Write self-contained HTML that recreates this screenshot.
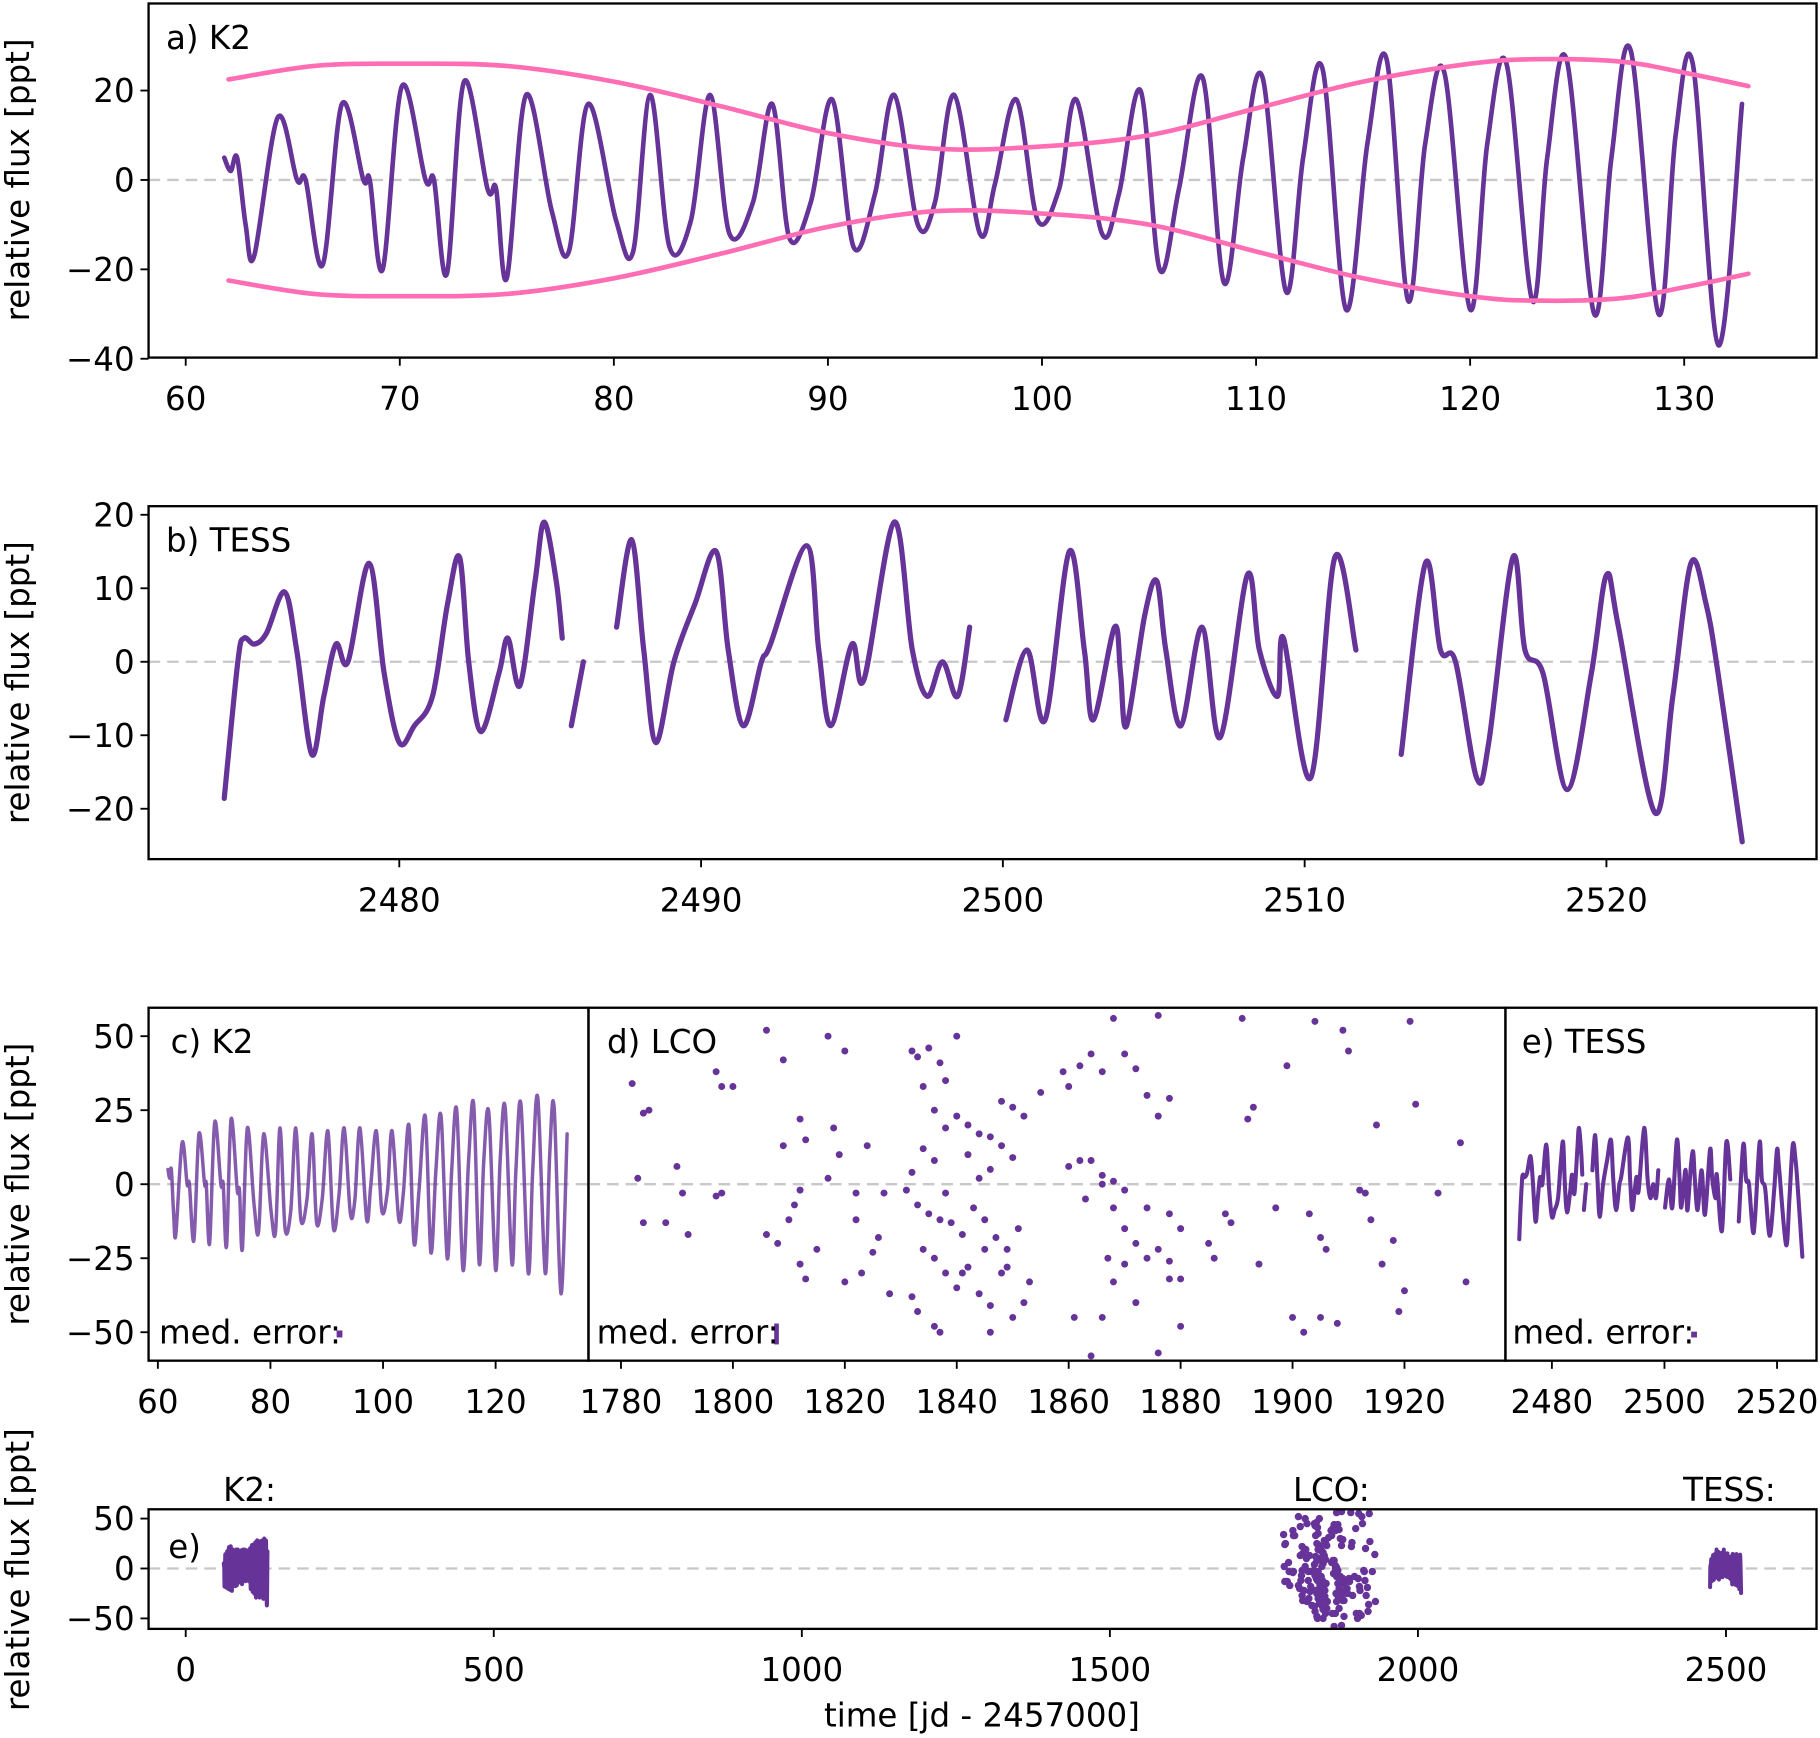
<!DOCTYPE html>
<html><head><meta charset="utf-8"><style>
html,body{margin:0;padding:0;background:#fff;}
svg{display:block;font-family:"DejaVu Sans","Liberation Sans",sans-serif;}
</style></head><body>
<svg id="fig" width="1820" height="1738" viewBox="0 0 1568 1497" preserveAspectRatio="none" xmlns="http://www.w3.org/2000/svg"></svg>
<script>
// ---- data (time [jd-2457000], relative flux [ppt]) ----
const k2Time=[61.8,62.1,62.4,62.8,63.2,64.3,65.2,65.6,66.4,67.3,68.3,68.6,69.2,70.1,71.2,71.6,72.2,73.0,74.1,74.5,75.0,75.9,77.1,77.9,78.8,80.1,80.9,81.7,82.6,83.6,84.5,85.4,86.5,87.4,88.2,89.2,90.2,91.2,92.2,93.1,94.2,95.0,95.9,97.1,97.8,98.8,99.8,100.8,101.6,102.8,103.6,104.6,105.5,106.4,107.5,108.5,109.4,110.3,111.4,112.2,113.1,114.2,115.2,116.1,117.1,117.9,118.8,120.0,120.8,121.7,122.9,123.6,124.5,125.8,126.6,127.5,128.8,129.6,130.4,131.6,132.7];
const k2Flux=[5,2,5,-10,-17,14,0,0,-19,17,0,0,-20,21,0,0,-21,22,-2,-2,-22,19,-7,-16,17,-9,-16,19,-15,-9,19,-12,-5,17,-13,-5,18,-15,-3,19,-10,-5,19,-12,-1,18,-9,-2,18,-12,-3,20,-20,-2,23,-23,5,23,-25,5,25,-29,8,27,-27,8,24,-29,8,26,-27,5,27,-30,5,29,-30,10,26,-37,17];
const envTime=[62,66,70,75,80,85,90,95,100,105,110,115,120,123,127,130,133];
const envAmp=[22.5,25.5,26,25.5,22,16.5,10.5,7,7.5,10,16,22,26,27,26.5,24,21];
const tessSegTime=[
[2474.2,2474.65,2474.85,2475.2,2475.6,2476.2,2476.6,2477.1,2477.5,2477.9,2478.3,2479.0,2479.5,2480.0,2480.5,2481.1,2481.6,2482.0,2482.3,2482.7,2483.3,2483.6,2484.0,2484.5,2484.8,2485.2,2485.4],
[2485.7,2486.1],
[2487.2,2487.7,2488.1,2488.5,2489.1,2489.8,2490.5,2490.9,2491.4,2492.0,2492.3,2493.5,2493.9,2494.3,2495.0,2495.4,2496.4,2497.0,2497.5,2498.0,2498.5,2498.9],
[2500.1,2500.8,2501.4,2502.2,2502.7,2503.0,2503.7,2503.9,2504.1,2504.7,2505.1,2505.4,2505.9,2506.6,2507.2,2508.1,2508.5,2509.1,2509.3,2510.2,2511.0,2511.7],
[2513.2,2514.0,2514.5,2515.0,2515.7,2516.1,2516.9,2517.3,2517.9,2518.7,2519.5,2520.0,2520.4,2521.6,2522.2,2522.8,2523.3,2523.7,2524.5]];
const tessSegFlux=[
[-18.6,0,3.2,2.4,3.9,9.5,1.6,-12.6,-4.7,2.4,0,13.4,-1.6,-11,-8.7,-4.7,7.9,14.2,0,-9.5,-1.6,3.2,-3.2,11,19,11,3.2],
[-8.7,0],
[4.7,16.6,1.6,-11,0,7.9,15,1.6,-8.7,0,2.4,15.8,1.6,-8.7,2.4,-2.4,19,1.6,-4.7,0,-4.7,4.7],
[-7.9,1.6,-7.9,15,1.6,-7.9,4.7,-1.6,-8.7,6.3,11,1.6,-8.7,4.7,-10.3,11.8,1.6,-4.7,3.2,-15.8,14.2,1.6],
[-12.6,13.4,1.6,0,-15.8,-11,14.2,1.6,-1.6,-17.4,-1.6,11.8,4.7,-20.5,-4.7,13.4,7.9,-1.6,-24.5]];
const lcoTime=[1782,1784,1785,1783,1784,1790,1791,1788,1792,1797,1798,1800,1797,1798,1806,1809,1812,1813,1812,1809,1811,1806,1808,1812,1810,1815,1813,1817,1818,1820,1819,1822,1824,1823,1825,1820,1827,1826,1822,1828,1817,
1832,1833,1835,1837,1838,1840,1834,1836,1838,1840,1842,1844,1846,1848,1850,1852,1855,1850,1848,1846,1844,1842,1838,1836,1834,1832,1831,1833,1835,1837,1839,1841,1843,1845,1847,1849,1851,1834,1836,1838,1840,1842,1844,1846,1848,1850,1852,1832,1833,1837,1846,1853,1836,1841,1845,1849,
1859,1860,1862,1864,1866,1868,1870,1872,1876,1874,1876,1878,1860,1862,1864,1866,1868,1870,1863,1866,1868,1870,1867,1870,1872,1874,1876,1878,1880,1878,1880,1868,1872,1866,1864,1861,1876,1880,1874,1878,
1891,1885,1886,1888,1889,1892,1893,1894,1897,1899,1904,1908,1903,1905,1906,1900,1902,1909,1910,1912,1913,1914,1916,1918,1920,1919,1921,1922,1915,1926,1930,1931,1905];
const lcoFlux=[34,24,25,2,-13,6,-3,-13,-17,38,33,33,-4,-3,52,42,22,15,-2,13,-7,-17,-20,-27,-12,-22,-32,50,19,45,10,-3,13,-30,-23,-33,-3,-18,-12,-37,2,
45,43,46,41,35,50,33,25,19,23,20,17,16,28,26,23,31,9,13,5,2,10,-3,8,12,4,-2,-7,-10,-12,-13,-17,-8,-12,-18,-22,-15,-22,-25,-30,-35,-28,-37,-41,-30,-45,-40,-38,-43,-50,-50,-33,-48,-30,-22,-28,
38,33,40,44,38,56,44,39,57,30,23,29,6,8,8,3,1,-2,-5,0,-8,-15,-25,-27,-20,-25,-22,-32,-32,-10,-15,-33,-40,-45,-58,-45,-57,-48,-8,-26,
56,-20,-25,-10,-13,22,26,-27,-8,40,55,-47,-10,-18,-22,-45,-50,52,45,-2,-3,-12,-27,-19,-36,-43,55,27,20,-3,14,-33,-45];
const ticksA_x=[60,70,80,90,100,110,120,130], ticksA_y=[20,0,-20,-40];
const ticksB_x=[2480,2490,2500,2510,2520], ticksB_y=[20,10,0,-10,-20];
const ticksC_x=[60,80,100,120], ticksCDE_y=[50,25,0,-25,-50];
const ticksD_x=[1780,1800,1820,1840,1860,1880,1900,1920];
const ticksE_x=[2480,2500,2520];
const ticksF_x=[0,500,1000,1500,2000,2500], ticksF_y=[50,0,-50];

const NS="http://www.w3.org/2000/svg";
const svg=document.getElementById('fig');
const PURPLE="#663399", PINK="#ff6eb4";
function mk(tag,attrs,parent){const e=document.createElementNS(NS,tag);for(const k in attrs)e.setAttribute(k,attrs[k]);(parent||svg).appendChild(e);return e;}
function fmt(v){return v<0?"\u2212"+Math.abs(v):String(v);}
function lin(d0,p0,d1,p1){return v=>p0+(v-d0)*(p1-p0)/(d1-d0);}
// smooth path (Catmull-Rom -> cubic bezier) through screen points
function smoothPath(pts){
  if(pts.length<3){return pts.map((p,i)=>(i?'L':'M')+p[0].toFixed(1)+' '+p[1].toFixed(1)).join('');}
  let d='M'+pts[0][0].toFixed(1)+' '+pts[0][1].toFixed(1);
  for(let i=0;i<pts.length-1;i++){
    const p0=pts[Math.max(0,i-1)],p1=pts[i],p2=pts[i+1],p3=pts[Math.min(pts.length-1,i+2)];
    const c1=[p1[0]+(p2[0]-p0[0])/6,p1[1]+(p2[1]-p0[1])/6];
    const c2=[p2[0]-(p3[0]-p1[0])/6,p2[1]-(p3[1]-p1[1])/6];
    d+='C'+c1[0].toFixed(1)+' '+c1[1].toFixed(1)+' '+c2[0].toFixed(1)+' '+c2[1].toFixed(1)+' '+p2[0].toFixed(1)+' '+p2[1].toFixed(1);
  }
  return d;
}

const P={
 a:{box:[128,3,1565,308],x:lin(60,160,130,1451),y:lin(0,155,20,78)},
 b:{box:[128,436,1565,740],x:lin(2480,344,2520,1384),y:lin(0,570,20,443.4)},
 c:{box:[128,868,507,1172],x:lin(60,136,120,427),y:lin(0,1020,50,892.5)},
 d:{box:[507,868,1297,1172],x:lin(1780,535,1920,1210),y:lin(0,1020,50,892.5)},
 e:{box:[1297,868,1565,1172],x:lin(2480,1337,2520,1531),y:lin(0,1020,50,892.5)},
 f:{box:[128,1300,1565,1403],x:lin(0,160,2500,1487),y:lin(0,1351,50,1308)}
};
let clipN=0;
function panelGroup(p,name){
  const b=p.box; const id='clip'+(clipN++);
  const cp=mk('clipPath',{id:id}); mk('rect',{x:b[0],y:b[1],width:b[2]-b[0],height:b[3]-b[1]},cp);
  const g=mk('g',{'clip-path':'url(#'+id+')'});
  
  
  const z=mk('line',{x1:b[0],x2:b[2],y1:p.y(0),y2:p.y(0),stroke:'#c8c8c8','stroke-width':2,'stroke-dasharray':'10,6'},g);
  
  
  return g;
}
function frame(p,name){
  const b=p.box;
  const r=mk('rect',{x:b[0],y:b[1],width:b[2]-b[0],height:b[3]-b[1],fill:'none',stroke:'#000','stroke-width':2});
  
  
}
function xticks(p,ticks,name){
  const b=p.box;
  ticks.forEach(t=>{const x=p.x(t);
    mk('line',{x1:x,x2:x,y1:b[3],y2:b[3]+7,stroke:'#000','stroke-width':1.6});
    const tx=mk('text',{x:x,y:b[3]+45,'text-anchor':'middle','font-size':28,fill:'#000'});tx.textContent=fmt(t);
    
    
  });
}
function yticks(p,ticks,name){
  const b=p.box;
  ticks.forEach(t=>{const y=p.y(t);
    mk('line',{x1:b[0]-7,x2:b[0],y1:y,y2:y,stroke:'#000','stroke-width':1.6});
    const tx=mk('text',{x:b[0]-12,y:y+10,'text-anchor':'end','font-size':28,fill:'#000'});tx.textContent=fmt(t);
    
    
  });
}
function curve(g,p,T,F,w,op,name,color){
  const pts=T.map((t,i)=>[p.x(t),p.y(F[i])]);
  const e=mk('path',{d:smoothPath(pts),fill:'none',stroke:color||PURPLE,'stroke-width':w,'stroke-linejoin':'round','stroke-linecap':'round',opacity:op},g);
  
  
}
function scatter(g,p,T,F,r,name){
  T.forEach((t,i)=>{const c=mk('circle',{cx:p.x(t),cy:p.y(F[i]),r:r,fill:PURPLE},g);
    
    });
}
function label(x,y,s,name,size,anchor){
  const t=mk('text',{x:x,y:y,'font-size':size||28,fill:'#000','text-anchor':anchor||'start'});t.textContent=s;
  
  
}
function ytitle(cx,cy,name){
  const t=mk('text',{x:0,y:0,'font-size':28,fill:'#000','text-anchor':'middle',transform:'translate('+cx+','+cy+') rotate(-90)'});
  t.textContent='relative flux [ppt]';
  
  
}

// panel a
let g=panelGroup(P.a,'panel-a');
curve(g,P.a,k2Time,k2Flux,4,1,'k2-light-curve');
curve(g,P.a,envTime,envAmp,4,1,'upper-envelope',PINK);
curve(g,P.a,envTime,envAmp.map(v=>-v),4,1,'lower-envelope',PINK);
frame(P.a,'panel-a');xticks(P.a,ticksA_x,'panel-a');yticks(P.a,ticksA_y,'panel-a');
label(143,42,'a) K2','panel-a-title');ytitle(25,155,'panel-a-y-title');

// panel b
g=panelGroup(P.b,'panel-b');
tessSegTime.forEach((T,i)=>curve(g,P.b,T,tessSegFlux[i],4.5,1,'tess-segment-'+i));
frame(P.b,'panel-b');xticks(P.b,ticksB_x,'panel-b');yticks(P.b,ticksB_y,'panel-b');
label(143,475,'b) TESS','panel-b-title');ytitle(25,588,'panel-b-y-title');

// panel c
g=panelGroup(P.c,'panel-c');
curve(g,P.c,k2Time,k2Flux,3,0.8,'k2-light-curve-small');
mk('rect',{x:290,y:1146,width:5,height:6,fill:PURPLE},g);
frame(P.c,'panel-c');xticks(P.c,ticksC_x,'panel-c');yticks(P.c,ticksCDE_y,'panel-c');
label(147,907,'c) K2','panel-c-title');label(137,1157,'med. error:','panel-c-med-error');
ytitle(25,1020,'panel-c-y-title');

// panel d
g=panelGroup(P.d,'panel-d');
scatter(g,P.d,lcoTime,lcoFlux,3,'lco-point');
mk('rect',{x:667,y:1140,width:4,height:18,fill:PURPLE},g);
frame(P.d,'panel-d');xticks(P.d,ticksD_x,'panel-d');
label(523,907,'d) LCO','panel-d-title');label(514,1157,'med. error:','panel-d-med-error');

// panel e
g=panelGroup(P.e,'panel-e');
tessSegTime.forEach((T,i)=>curve(g,P.e,T,tessSegFlux[i],3.5,1,'tess-segment-small-'+i));
mk('rect',{x:1457,y:1147,width:5,height:5,fill:PURPLE},g);
frame(P.e,'panel-e');xticks(P.e,ticksE_x,'panel-e');
label(1311,907,'e) TESS','panel-e-title');label(1303,1157,'med. error:','panel-e-med-error');

// panel f
g=panelGroup(P.f,'panel-f');
curve(g,P.f,k2Time,k2Flux,3.5,1,'k2-overview');
scatter(g,P.f,lcoTime,lcoFlux,3.2,'lco-overview-point');
tessSegTime.forEach((T,i)=>curve(g,P.f,T,tessSegFlux[i],3.5,1,'tess-overview-'+i));
frame(P.f,'panel-f');xticks(P.f,ticksF_x,'panel-f');yticks(P.f,ticksF_y,'panel-f');
label(145,1342,'e)','panel-f-title');
label(215,1293,'K2:','k2-label',28,'middle');label(1147,1293,'LCO:','lco-label',28,'middle');label(1490,1293,'TESS:','tess-label',28,'middle');
ytitle(25,1352,'panel-f-y-title');
label(846,1487,'time [jd - 2457000]','x-axis-title',28,'middle');
</script>
</body></html>
